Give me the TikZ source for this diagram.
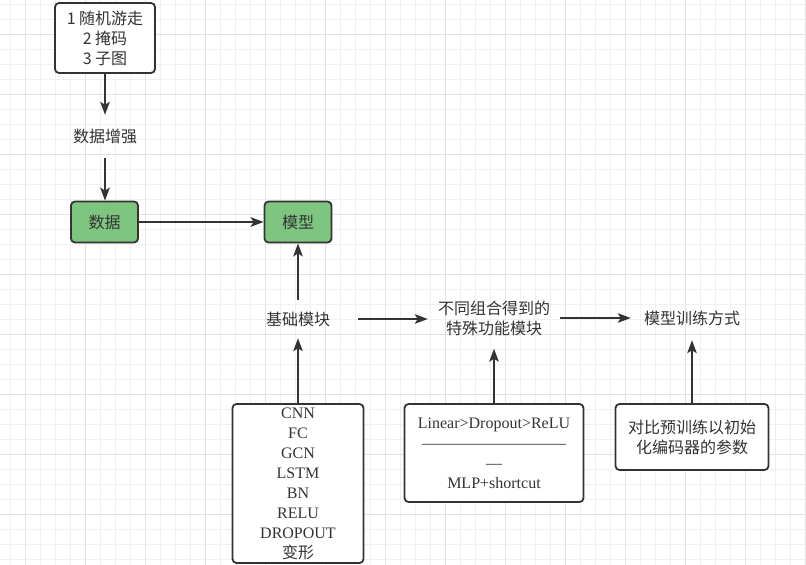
\documentclass[tikz,border=0pt]{standalone}
\usepackage{fontspec}
\setmainfont{Liberation Serif}
\newfontfamily\cjk{Noto Sans CJK SC}
\usetikzlibrary{arrows.meta}
\definecolor{ink}{HTML}{333333}
\definecolor{gmin}{HTML}{F0F0F0}
\definecolor{gmaj}{HTML}{E2E2E2}
\definecolor{gfill}{HTML}{7EC67F}
\tikzset{
  box/.style={draw=ink, line width=1.8pt, rounded corners=4pt, fill=white, inner sep=0pt,
    align=center, text=ink, font=\fontsize{16}{20}\selectfont},
  cjkbox/.style={box, font=\cjk\fontsize{16}{20}\selectfont},
  gbox/.style={cjkbox, fill=gfill, minimum width=67pt, minimum height=41pt},
  lbl/.style={inner sep=0pt, align=center, text=ink, font=\cjk\fontsize{16}{20}\selectfont},
  conn/.style={draw=ink, line width=1.8pt, -{Stealth[length=13pt,width=9.5pt,inset=3pt]}},
}
\begin{document}
\begin{tikzpicture}[x=1pt,y=-1pt]
\useasboundingbox (0,0) rectangle (806,565);
\fill[white] (0,0) rectangle (806,565);
\foreach \x in {10,25,...,805} \draw[gmin, line width=1pt] (\x,0) -- (\x,565);
\foreach \y in {4,19,...,564} \draw[gmin, line width=1pt] (0,\y) -- (806,\y);
\foreach \x in {25,85,...,805} \draw[gmaj, line width=1pt] (\x,0) -- (\x,565);
\foreach \y in {34,94,...,564} \draw[gmaj, line width=1pt] (0,\y) -- (806,\y);

\node[cjkbox, minimum width=100pt, minimum height=70pt] (aug3) at (105,38) {1 随机游走\\2 掩码\\3 子图};
\node[lbl, minimum width=80pt, minimum height=43pt] (aug) at (105,136.5) {数据增强};
\node[gbox] (data) at (104.5,222) {数据};
\node[gbox] (model) at (298,222) {模型};
\node[lbl, minimum width=120pt, minimum height=38pt] (basic) at (298,319) {基础模块};
\node[lbl, minimum width=132pt, minimum height=60pt] (special) at (494,318.5) {不同组合得到的\\特殊功能模块};
\node[lbl, minimum width=122pt, minimum height=44pt] (train) at (692,318) {模型训练方式};
\node[box, minimum width=131pt, minimum height=159pt] (list) at (298,483.5)
  {CNN\\FC\\GCN\\LSTM\\BN\\RELU\\DROPOUT\\{\cjk 变形}};
\node[box, minimum width=179pt, minimum height=98pt] (lin) at (494,453)
  {Linear>Dropout>ReLU\\—————————\\—\\MLP+shortcut};
\node[cjkbox, minimum width=153pt, minimum height=66pt] (con) at (692,437)
  {对比预训练以初始\\化编码器的参数};

\draw[conn] (aug3.south) -- (aug3.south |- aug.north);
\draw[conn] (aug.south) -- (aug.south |- data.north);
\draw[conn] (data.east) -- (model.west);
\draw[conn] (basic.north) -- (model.south);
\draw[conn] (list.north) -- (basic.south);
\draw[conn] (basic.east) -- (basic.east -| special.west);
\draw[conn] (special.east |- train.west) -- (train.west);
\draw[conn] (lin.north) -- (special.south);
\draw[conn] (con.north) -- (train.south);
\end{tikzpicture}
\end{document}
